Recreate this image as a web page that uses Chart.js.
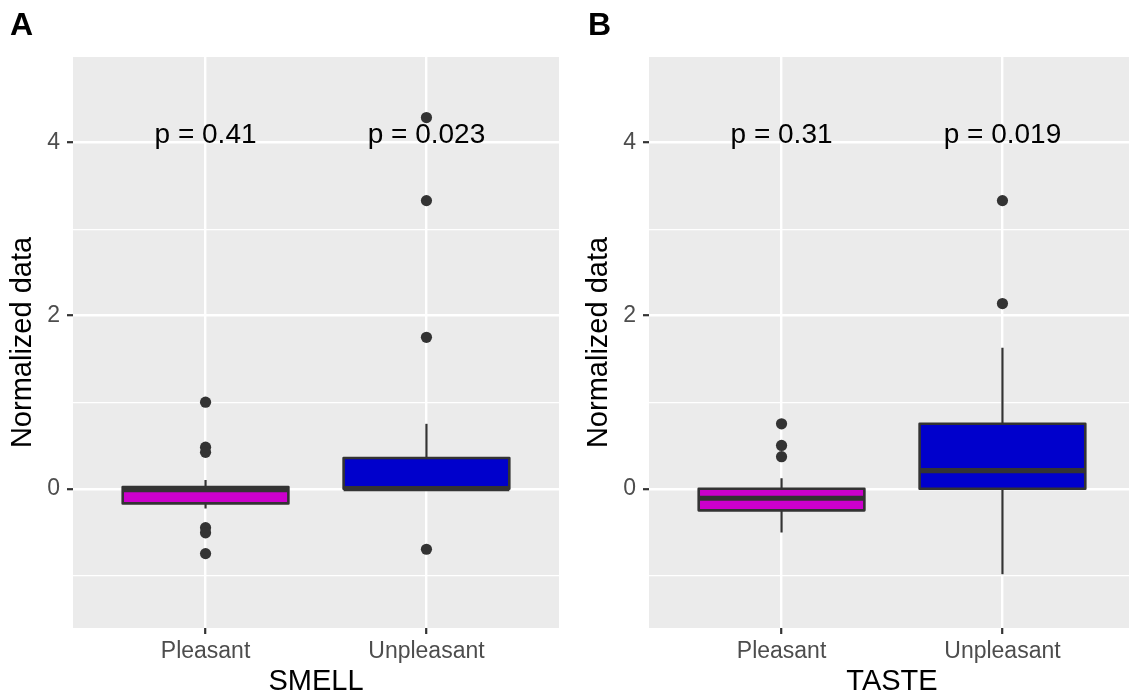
<!DOCTYPE html>
<html><head><meta charset="utf-8">
<script src="https://cdn.jsdelivr.net/npm/chart.js@4.4.0/dist/chart.umd.min.js"></script>
<style>
html,body{margin:0;padding:0;background:#fff;overflow:hidden;width:1129px;height:699px;}
#wrap{position:relative;width:1129px;height:699px;overflow:hidden;background:#fff;}
canvas{position:absolute;top:0;}
#cA{left:0;}
#cB{left:576px;}
.tag{position:absolute;font-family:"Liberation Sans",Arial,sans-serif;font-weight:bold;font-size:32px;line-height:32px;color:#000;}
</style></head><body>
<div id="wrap">
<canvas id="cA" width="565" height="699"></canvas>
<canvas id="cB" width="565" height="699"></canvas>
<div class="tag" style="left:10px;top:8px">A</div>
<div class="tag" style="left:588px;top:8px">B</div>
</div>
<script>
// ---------- data ----------
const categories = ['Pleasant', 'Unpleasant'];
const boxColors = ['#CC00CC', '#0000CC'];
const yTickValues = [-1, 0, 1, 2, 3, 4];
const yTickLabels = ['', '0', '', '2', '', '4'];
const yAxisTitle = 'Normalized data';

// SMELL panel (A)
const smellTitle = 'SMELL';
const smellLower  = [-0.23, 0.00];
const smellQ1     = [-0.17, 0.00];
const smellMedian = [-0.01, 0.00];
const smellQ3     = [0.02, 0.355];
const smellUpper  = [0.10, 0.75];
const smellPleasantOutliers   = [1.00, 0.48, 0.42, -0.45, -0.51, -0.75];
const smellUnpleasantOutliers = [4.29, 3.33, 1.75, -0.70];
const smellPLabels = ['p = 0.41', 'p = 0.023'];

// TASTE panel (B)
const tasteTitle = 'TASTE';
const tasteLower  = [-0.505, -0.99];
const tasteQ1     = [-0.25, 0.00];
const tasteMedian = [-0.11, 0.21];
const tasteQ3     = [0.00, 0.75];
const tasteUpper  = [0.12, 1.63];
const tastePleasantOutliers   = [0.75, 0.50, 0.37];
const tasteUnpleasantOutliers = [3.33, 2.14];
const tastePLabels = ['p = 0.31', 'p = 0.019'];

const pLabelY = 4.08;
// --------------------------

const FONT = '"Liberation Sans", Arial, Helvetica, sans-serif';

const boxPlugin = {
  id: 'boxplot',
  beforeDraw(chart) {
    const {ctx, chartArea: a} = chart;
    ctx.save();
    ctx.fillStyle = '#EBEBEB';
    ctx.fillRect(a.left, a.top, a.right - a.left, a.bottom - a.top);
    ctx.restore();
  },
  beforeDatasetsDraw(chart, args, opts) {
    const {ctx, chartArea: a} = chart;
    const x = chart.scales.x, y = chart.scales.y;
    const s = opts.stats;
    ctx.save();
    ctx.beginPath();
    ctx.rect(a.left, a.top, a.right - a.left, a.bottom - a.top);
    ctx.clip();
    for (let i = 0; i < categories.length; i++) {
      const cx = x.getPixelForValue(i + 1);
      const xl = x.getPixelForValue(i + 1 - opts.boxWidth / 2);
      const xr = x.getPixelForValue(i + 1 + opts.boxWidth / 2);
      const yLo = y.getPixelForValue(s.lower[i]);
      const yQ1 = y.getPixelForValue(s.q1[i]);
      const yMed = y.getPixelForValue(s.median[i]);
      const yQ3 = y.getPixelForValue(s.q3[i]);
      const yHi = y.getPixelForValue(s.upper[i]);
      ctx.strokeStyle = '#333333';
      ctx.lineCap = 'butt';
      ctx.lineWidth = 2.2;
      ctx.beginPath();
      ctx.moveTo(cx, yQ3); ctx.lineTo(cx, yHi);
      ctx.moveTo(cx, yQ1); ctx.lineTo(cx, yLo);
      ctx.stroke();
      ctx.fillStyle = boxColors[i];
      ctx.fillRect(xl, yQ3, xr - xl, yQ1 - yQ3);
      ctx.lineWidth = 2.6;
      ctx.lineJoin = 'round';
      ctx.strokeRect(xl, yQ3, xr - xl, yQ1 - yQ3);
      ctx.lineWidth = 5.2;
      ctx.beginPath();
      ctx.moveTo(xl, yMed); ctx.lineTo(xr, yMed);
      ctx.stroke();
    }
    ctx.restore();
  },
  afterDatasetsDraw(chart, args, opts) {
    const {ctx} = chart;
    const x = chart.scales.x, y = chart.scales.y;
    ctx.save();
    ctx.fillStyle = '#000000';
    ctx.font = '28px ' + FONT;
    ctx.textAlign = 'center';
    ctx.textBaseline = 'middle';
    opts.pLabels.forEach((t, i) => {
      ctx.fillText(t, x.getPixelForValue(i + 1), y.getPixelForValue(pLabelY));
    });
    ctx.restore();
  }
};

function makePanel(canvasId, title, stats, pleasantOut, unpleasantOut, pLabels) {
  const pts = [];
  pleasantOut.forEach(v => pts.push({x: 1, y: v}));
  unpleasantOut.forEach(v => pts.push({x: 2, y: v}));
  return new Chart(document.getElementById(canvasId), {
    type: 'scatter',
    data: {
      datasets: [{
        data: pts,
        pointRadius: 5.6,
        pointBorderWidth: 0,
        pointBackgroundColor: '#333333',
        pointBorderColor: '#333333'
      }]
    },
    plugins: [boxPlugin],
    options: {
      responsive: false,
      animation: false,
      events: [],
      layout: {padding: {top: 57, right: 6, left: 0, bottom: 0}},
      plugins: {
        legend: {display: false},
        tooltip: {enabled: false},
        boxplot: {stats: stats, pLabels: pLabels, boxWidth: 0.75}
      },
      scales: {
        x: {
          type: 'linear',
          min: 0.4, max: 2.6,
          afterFit(scale) { scale.height = 71; },
          afterBuildTicks(scale) { scale.ticks = categories.map((c, i) => ({value: i + 1})); },
          ticks: {
            autoSkip: false, maxRotation: 0, padding: 4,
            color: '#4D4D4D',
            font: {family: FONT, size: 23},
            callback: (v) => categories[Math.round(v) - 1]
          },
          grid: {
            color: '#FFFFFF', lineWidth: 2.4,
            drawTicks: true, tickLength: 6, tickWidth: 2.2, tickColor: '#333333'
          },
          border: {display: false},
          title: {display: true, text: title, color: '#000000',
                  font: {family: FONT, size: 29}, padding: {top: 0, bottom: 0}}
        },
        y: {
          type: 'linear',
          min: -1.61, max: 4.99,
          afterFit(scale) { scale.width = 73; },
          afterBuildTicks(scale) { scale.ticks = yTickValues.map(v => ({value: v})); },
          ticks: {
            autoSkip: false, padding: 7,
            color: '#4D4D4D',
            font: {family: FONT, size: 23},
            callback: (v) => yTickLabels[yTickValues.indexOf(v)]
          },
          grid: {
            color: '#FFFFFF',
            lineWidth: (c) => (c.tick && yTickLabels[yTickValues.indexOf(c.tick.value)] !== '') ? 2.4 : 1.2,
            drawTicks: true, tickLength: 6, tickWidth: 2.2,
            tickColor: (c) => (c.tick && yTickLabels[yTickValues.indexOf(c.tick.value)] !== '') ? '#333333' : 'rgba(0,0,0,0)'
          },
          border: {display: false},
          title: {display: true, text: yAxisTitle, color: '#000000',
                  font: {family: FONT, size: 29}, padding: {top: 6, bottom: 0}}
        }
      }
    }
  });
}

makePanel('cA', smellTitle,
  {lower: smellLower, q1: smellQ1, median: smellMedian, q3: smellQ3, upper: smellUpper},
  smellPleasantOutliers, smellUnpleasantOutliers, smellPLabels);
makePanel('cB', tasteTitle,
  {lower: tasteLower, q1: tasteQ1, median: tasteMedian, q3: tasteQ3, upper: tasteUpper},
  tastePleasantOutliers, tasteUnpleasantOutliers, tastePLabels);
</script>
</body></html>
